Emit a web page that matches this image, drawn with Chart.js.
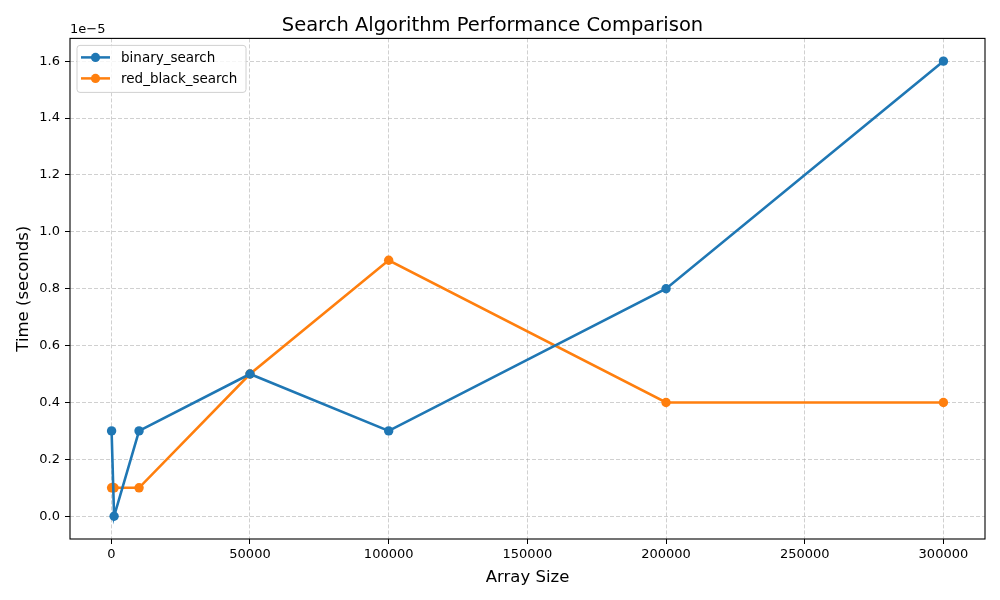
<!DOCTYPE html>
<html><head><meta charset="utf-8">
<script src="https://cdn.jsdelivr.net/npm/chart.js@4"></script>
<style>html,body{margin:0;padding:0;background:#fff}#wrap{width:1000px;height:600px}</style>
</head><body><div id="wrap"><canvas id="c" width="1000" height="600"></canvas></div>
<script>
const arraySizes = [100, 1000, 10000, 50000, 100000, 200000, 300000];
const binarySearch = [3e-6, 0, 3e-6, 5e-6, 3e-6, 8e-6, 1.6e-5];
const redBlackSearch = [1e-6, 1e-6, 1e-6, 5e-6, 9e-6, 4e-6, 4e-6];
const xTicks = [0, 50000, 100000, 150000, 200000, 250000, 300000];
const yTicks = [0.0, 0.2, 0.4, 0.6, 0.8, 1.0, 1.2, 1.4, 1.6]; // in units of 1e-5
const yScaleFactor = 1e-5;

const FONT = "'DejaVu Sans', sans-serif";
const gridColor = 'rgba(176,176,176,0.75)';

const frame = {
  id: 'frame',
  afterDatasetsDraw(chart) {
    const {ctx, chartArea: a} = chart;
    ctx.save();
    ctx.strokeStyle = '#000'; ctx.lineWidth = 1.1;
    ctx.strokeRect(a.left, a.top, a.right - a.left, a.bottom - a.top);
    // offset label
    ctx.fillStyle = '#000'; ctx.font = "13px " + FONT;
    ctx.textAlign = 'left'; ctx.textBaseline = 'bottom';
    ctx.fillText('1e\u22125', a.left, a.top - 2);
    // legend
    const x0 = a.left + 7, y0 = a.top + 7, w = 169, h = 47;
    const r = 3;
    ctx.beginPath();
    ctx.moveTo(x0 + r, y0); ctx.lineTo(x0 + w - r, y0); ctx.arcTo(x0 + w, y0, x0 + w, y0 + r, r);
    ctx.lineTo(x0 + w, y0 + h - r); ctx.arcTo(x0 + w, y0 + h, x0 + w - r, y0 + h, r);
    ctx.lineTo(x0 + r, y0 + h); ctx.arcTo(x0, y0 + h, x0, y0 + h - r, r);
    ctx.lineTo(x0, y0 + r); ctx.arcTo(x0, y0, x0 + r, y0, r);
    ctx.closePath();
    ctx.fillStyle = 'rgba(255,255,255,0.8)'; ctx.fill();
    ctx.strokeStyle = '#d0d0d0'; ctx.lineWidth = 1; ctx.stroke();
    chart.data.datasets.forEach((ds, i) => {
      const yy = y0 + 12 + i * 21;
      ctx.strokeStyle = ds.borderColor; ctx.lineWidth = 2.5;
      ctx.beginPath(); ctx.moveTo(x0 + 4, yy); ctx.lineTo(x0 + 33, yy); ctx.stroke();
      ctx.fillStyle = ds.borderColor;
      ctx.beginPath(); ctx.arc(x0 + 18.5, yy, 4.6, 0, Math.PI * 2); ctx.fill();
      ctx.fillStyle = '#000'; ctx.font = "13.5px " + FONT;
      ctx.textBaseline = 'middle';
      ctx.fillText(ds.label, x0 + 44, yy + 1);
    });
    ctx.restore();
  }
};

new Chart(document.getElementById('c'), {
  type: 'line',
  data: {
    datasets: [
      { label: 'binary_search', data: arraySizes.map((x, i) => ({x, y: binarySearch[i]})),
        borderColor: '#1f77b4', backgroundColor: '#1f77b4', borderWidth: 2.6,
        pointRadius: 4.7, pointHoverRadius: 4.7, pointBorderWidth: 0, tension: 0 },
      { label: 'red_black_search', data: arraySizes.map((x, i) => ({x, y: redBlackSearch[i]})),
        borderColor: '#ff7f0e', backgroundColor: '#ff7f0e', borderWidth: 2.6,
        pointRadius: 4.7, pointHoverRadius: 4.7, pointBorderWidth: 0, tension: 0 }
    ]
  },
  plugins: [frame],
  options: {
    responsive: false, animation: false, devicePixelRatio: 1,
    layout: { padding: { left: 0, right: 15, top: 0, bottom: 0 } },
    plugins: {
      legend: { display: false },
      tooltip: { enabled: false },
      title: { display: true, text: 'Search Algorithm Performance Comparison',
        color: '#000', font: { family: FONT, size: 19.5, weight: 'normal' },
        padding: { top: 14, bottom: 1 } }
    },
    scales: {
      x: {
        type: 'linear', min: -14895, max: 314995,
        afterBuildTicks: s => { s.ticks = xTicks.map(v => ({value: v})); },
        afterFit: s => { s.height = 61; },
        ticks: { color: '#000', font: { family: FONT, size: 13 }, padding: 3,
          maxRotation: 0, autoSkip: false, callback: v => String(v) },
        grid: { color: gridColor, lineWidth: 0.8, drawTicks: true, tickLength: 5,
          tickColor: '#000', tickWidth: 1, tickBorderDash: [] },
        border: { display: false, dash: [4, 2] },
        title: { display: true, text: 'Array Size', color: '#000',
          font: { family: FONT, size: 16.5 }, padding: { top: 0, bottom: 12 } }
      },
      y: {
        type: 'linear', min: -0.08e-5, max: 1.68e-5,
        afterBuildTicks: s => { s.ticks = yTicks.map(v => ({value: v * yScaleFactor})); },
        afterFit: s => { s.width = 70; },
        ticks: { color: '#000', font: { family: FONT, size: 13 }, padding: 5,
          autoSkip: false, callback: v => (v / yScaleFactor).toFixed(1) },
        grid: { color: gridColor, lineWidth: 0.8, drawTicks: true, tickLength: 5,
          tickColor: '#000', tickWidth: 1, tickBorderDash: [] },
        border: { display: false, dash: [4, 2] },
        title: { display: true, text: 'Time (seconds)', color: '#000',
          font: { family: FONT, size: 16.5 }, padding: { top: 14, bottom: 0 } }
      }
    }
  }
});
</script></body></html>
